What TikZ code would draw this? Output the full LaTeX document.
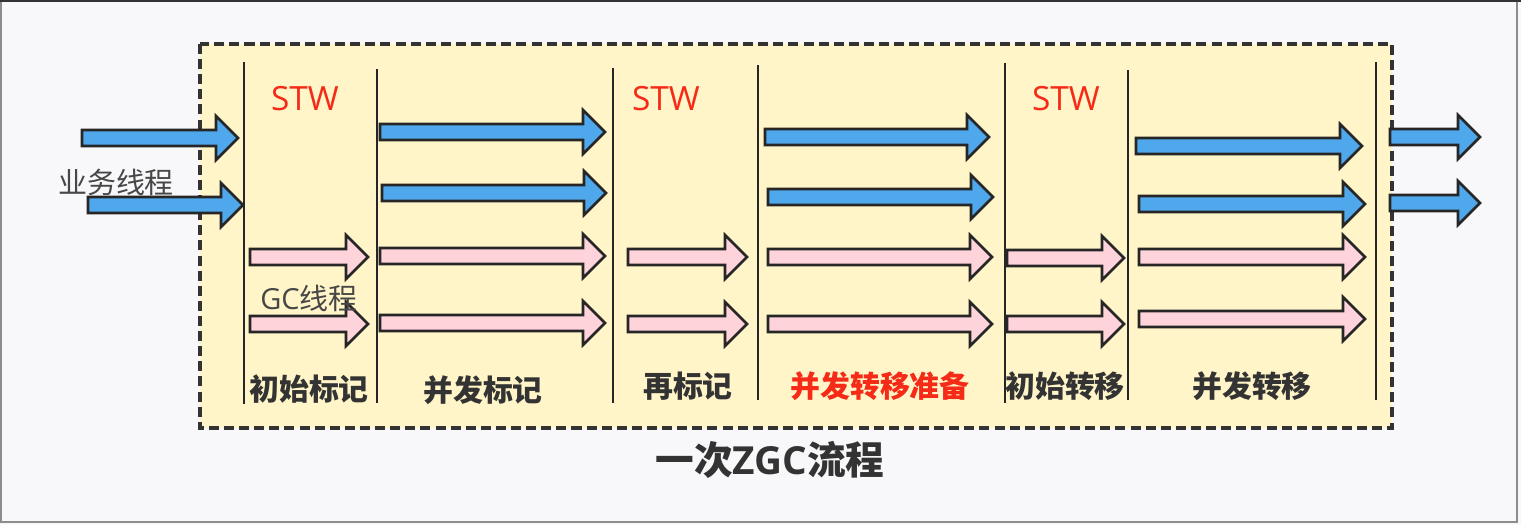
\documentclass[tikz,border=0pt]{standalone}
\usepackage{fontspec}
\setmainfont{Noto Sans CJK SC}
\newfontfamily\latf{Open Sans}
\definecolor{bgc}{HTML}{F8F8FA}
\definecolor{yel}{HTML}{FFF5C8}
\definecolor{blu}{HTML}{50A8EC}
\definecolor{pnk}{HTML}{FFD3DA}
\definecolor{redt}{HTML}{F52A17}
\definecolor{txt}{HTML}{333333}
\newcommand\blockarrow[4]{% x1, x2, y, color
  \draw[arrowline, fill=#4] (#1,#3-8) -- (#2-22,#3-8) -- (#2-22,#3-22) -- (#2,#3) -- (#2-22,#3+22) -- (#2-22,#3+8) -- (#1,#3+8) -- cycle;}
\tikzset{
  arrowline/.style={draw=black!85, line width=1.5pt, line join=miter},
  vline/.style={draw=black!85, line width=1.5pt},
  zone/.style={draw=black!80, line width=1.8pt, dash pattern=on 5.7pt off 2.9pt, fill=yel},
  stw/.style={text=redt, font=\latf\fontsize{19pt}{22pt}\selectfont, inner sep=0pt},
  lbl/.style={text=txt, font=\bfseries\fontsize{17pt}{20pt}\selectfont, inner sep=0pt},
  thr/.style={text=txt!90, font=\fontsize{16.5pt}{19pt}\selectfont, inner sep=0pt},
}
\begin{document}
\begin{tikzpicture}[x=0.02cm,y=-0.02cm]
\useasboundingbox (0,0) rectangle (1521,525);
\fill[bgc] (0,0) rectangle (1521,525);
\draw[black!45, line width=0.8pt] (1,1) rectangle (1517,522);
\draw[black!80, line width=1.5pt] (0,1) -- (1521,1);
% dashed zone
\draw[zone] (200,44) rectangle (1392,428);
% phase separators
\draw[vline] (244,62) -- (244,404);
\draw[vline] (377,69) -- (377,403);
\draw[vline] (613,68) -- (613,403);
\draw[vline] (758,65) -- (758,400);
\draw[vline] (1005,63) -- (1005,403);
\draw[vline] (1128,70) -- (1128,400);
\draw[vline] (1376,62) -- (1376,400);
% business threads (blue)
\blockarrow{82}{238}{138}{blu}
\blockarrow{88}{243}{205}{blu}
\blockarrow{380}{605}{132}{blu}
\blockarrow{382}{606}{193}{blu}
\blockarrow{765}{989}{137}{blu}
\blockarrow{768}{993}{197}{blu}
\blockarrow{1136}{1362}{146}{blu}
\blockarrow{1139}{1365}{204}{blu}
\blockarrow{1390}{1480}{137}{blu}
\blockarrow{1390}{1480}{203}{blu}
% GC threads (pink)
\blockarrow{250}{368}{257}{pnk}
\blockarrow{250}{368}{324}{pnk}
\blockarrow{380}{605}{256}{pnk}
\blockarrow{380}{605}{323}{pnk}
\blockarrow{628}{747}{257}{pnk}
\blockarrow{628}{747}{324}{pnk}
\blockarrow{768}{992}{257}{pnk}
\blockarrow{768}{992}{324}{pnk}
\blockarrow{1007}{1124}{258}{pnk}
\blockarrow{1007}{1124}{324}{pnk}
\blockarrow{1139}{1365}{257}{pnk}
\blockarrow{1139}{1365}{319}{pnk}
% texts
\node[stw] (stw1) at (305,99) {STW};
\node[stw] (stw2) at (666,99) {STW};
\node[stw] (stw3) at (1066,99) {STW};
\node[thr] (biz) at (116,182) {业务线程};
\node[thr] (gc) at (309,298) {{\latf GC}线程};
\node[lbl] (p1) at (309,389) {初始标记};
\node[lbl] (p2) at (483,390) {并发标记};
\node[lbl] (p3) at (688,386) {再标记};
\node[lbl, text=redt] (p4) at (880,386) {并发转移准备};
\node[lbl] (p5) at (1065,386) {初始转移};
\node[lbl] (p6) at (1252,386) {并发转移};
\node[text=txt, font=\bfseries\fontsize{22pt}{26pt}\selectfont, inner sep=0pt] (title) at (770,460) {一次{\latf\bfseries ZGC}流程};
\end{tikzpicture}
\end{document}
